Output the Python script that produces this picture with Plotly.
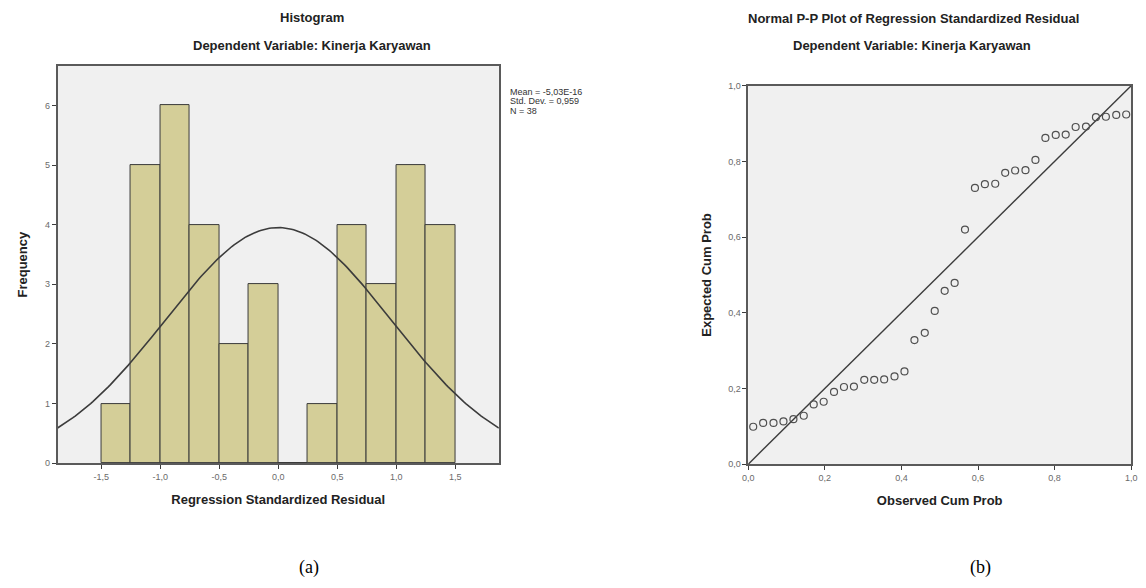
import math
import plotly.graph_objects as go

# ---------------- data ----------------
bin_left = [-1.5, -1.25, -1.0, -0.75, -0.5, -0.25, 0.0, 0.25, 0.5, 0.75, 1.0, 1.25]
bin_counts = [1, 5, 6, 4, 2, 3, 0, 1, 4, 3, 5, 4]
bin_width = 0.25
resid_mean = -5.03e-16
resid_sd = 0.959
n_obs = 38
hist_ticks = [-1.5, -1.0, -0.5, 0.0, 0.5, 1.0, 1.5]
hist_tick_text = ["-1,5", "-1,0", "-0,5", "0,0", "0,5", "1,0", "1,5"]

observed_cum = [0.013, 0.039, 0.066, 0.092, 0.118, 0.145, 0.171, 0.197, 0.224, 0.250,
                0.276, 0.303, 0.329, 0.355, 0.382, 0.408, 0.434, 0.461, 0.487, 0.513,
                0.539, 0.566, 0.592, 0.618, 0.645, 0.671, 0.697, 0.724, 0.750, 0.776,
                0.803, 0.829, 0.855, 0.882, 0.908, 0.934, 0.961, 0.987]
expected_cum = [0.099, 0.109, 0.109, 0.113, 0.119, 0.128, 0.158, 0.165, 0.191, 0.204,
                0.205, 0.223, 0.223, 0.224, 0.232, 0.245, 0.328, 0.347, 0.405, 0.458,
                0.479, 0.620, 0.730, 0.740, 0.741, 0.770, 0.776, 0.777, 0.804, 0.862,
                0.870, 0.871, 0.891, 0.892, 0.917, 0.918, 0.923, 0.924]
pp_ticks = [0.0, 0.2, 0.4, 0.6, 0.8, 1.0]
pp_tick_text = ["0,0", "0,2", "0,4", "0,6", "0,8", "1,0"]

# ---------------- styles ----------------
FONT = "Liberation Sans, Arial, sans-serif"
BAR_COLOR = "#D4CE98"
DARK = "#3c3c3c"
TICK_COLOR = "#6a6a6a"
PLOT_BG = "#F0F0F0"
W, H = 1146, 588
OFF = 8  # default page body margin


def px(x):
    return (x - OFF) / W


def py(y):
    return 1 - (y - OFF) / H


fig = go.Figure()

# histogram bars
fig.add_trace(go.Bar(
    x=[b + bin_width / 2 for b in bin_left], y=bin_counts, width=bin_width,
    marker=dict(color=BAR_COLOR, line=dict(color="#3a3a3a", width=1)),
    xaxis="x", yaxis="y", showlegend=False, hoverinfo="skip"))

# normal curve overlay
xr = (-1.87, 1.87)
steps = 200
cx = [xr[0] + (xr[1] - xr[0]) * i / steps for i in range(steps + 1)]
cy = [n_obs * bin_width / (resid_sd * math.sqrt(2 * math.pi))
      * math.exp(-0.5 * ((v - resid_mean) / resid_sd) ** 2) for v in cx]
fig.add_trace(go.Scatter(x=cx, y=cy, mode="lines",
                         line=dict(color=DARK, width=1.6),
                         xaxis="x", yaxis="y", showlegend=False, hoverinfo="skip"))

# P-P diagonal
fig.add_trace(go.Scatter(x=[0, 1], y=[0, 1], mode="lines",
                         line=dict(color=DARK, width=1.4),
                         xaxis="x2", yaxis="y2", showlegend=False, hoverinfo="skip"))
# P-P points
fig.add_trace(go.Scatter(x=observed_cum, y=expected_cum, mode="markers",
                         marker=dict(symbol="circle-open", size=7, color="#505050",
                                     line=dict(color="#505050", width=1.2)),
                         xaxis="x2", yaxis="y2", showlegend=False, hoverinfo="skip"))

axis_common = dict(showgrid=False, zeroline=False, ticks="outside", ticklen=4,
                   tickcolor=DARK, tickwidth=1,
                   tickfont=dict(family=FONT, size=9, color=TICK_COLOR),
                   showline=True, linecolor="#5a5a5a", linewidth=1.5, mirror=True)
title_font = dict(family=FONT, size=13, color="#222222")

fig.update_layout(
    width=W, height=H,
    margin=dict(l=0, r=0, t=0, b=0),
    paper_bgcolor="white",
    plot_bgcolor=PLOT_BG,
    bargap=0,
    xaxis=dict(domain=[px(52), px(498)], range=list(xr),
               tickvals=hist_ticks, ticktext=hist_tick_text,
               title=dict(text="<b>Regression Standardized Residual</b>",
                          font=title_font, standoff=14),
               anchor="y", **axis_common),
    yaxis=dict(domain=[py(466), py(62)], range=[0, 6.66],
               tickvals=[0, 1, 2, 3, 4, 5, 6],
               title=dict(text="<b>Frequency</b>", font=title_font, standoff=14),
               anchor="x", **axis_common),
    xaxis2=dict(domain=[px(750), px(1137)], range=[0, 1],
                tickvals=pp_ticks, ticktext=pp_tick_text,
                title=dict(text="<b>Observed Cum Prob</b>", font=title_font, standoff=14),
                anchor="y2", **axis_common),
    yaxis2=dict(domain=[py(467), py(82)], range=[0, 1],
                tickvals=pp_ticks, ticktext=pp_tick_text,
                title=dict(text="<b>Expected Cum Prob</b>", font=title_font, standoff=14),
                anchor="x2", **axis_common),
)


def ann(text, x, y, size=13, family=FONT, color="#222222", xanchor="center"):
    fig.add_annotation(text=text, x=px(x), y=py(y), xref="paper", yref="paper",
                       showarrow=False, xanchor=xanchor, yanchor="middle",
                       font=dict(family=family, size=size, color=color))


ann("<b>Histogram</b>", 309, 13)
ann("<b>Dependent Variable: Kinerja Karyawan</b>", 309, 41)
ann("<b>Normal P-P Plot of Regression Standardized Residual</b>", 917, 14)
ann("<b>Dependent Variable: Kinerja Karyawan</b>", 916, 41)

ann("Mean = -5,03E-16", 507, 88, size=9, color="#333333", xanchor="left")
ann("Std. Dev. = 0,959", 507, 98, size=9, color="#333333", xanchor="left")
ann("N = 38", 507, 108, size=9, color="#333333", xanchor="left")

ann("(a)", 306, 572, size=18, family="Liberation Serif, Times New Roman, serif", color="#000000")
ann("(b)", 985, 572, size=18, family="Liberation Serif, Times New Roman, serif", color="#000000")

fig.write_html("out.html")
